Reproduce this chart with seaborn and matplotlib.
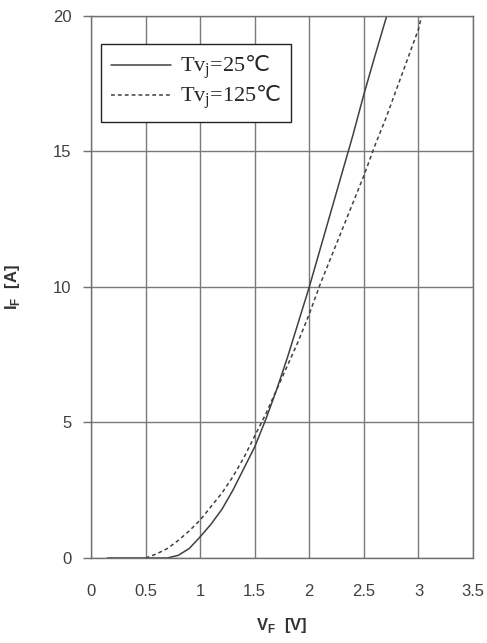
import numpy as np
import pandas as pd
import matplotlib
matplotlib.use('Agg')
import matplotlib.pyplot as plt
import seaborn as sns
from matplotlib.lines import Line2D

# forward characteristic
vf_25 = [0.15, 0.45, 0.7, 0.8, 0.9, 1.0, 1.1, 1.2, 1.3, 1.4, 1.5, 1.6, 1.7, 1.8,
         1.9, 2.0, 2.1, 2.2, 2.3, 2.4, 2.5, 2.6, 2.71]
if_25 = [0, 0, 0, 0.1, 0.35, 0.78, 1.25, 1.8, 2.5, 3.3, 4.1, 5.1, 6.2, 7.4,
         8.7, 10.0, 11.4, 12.8, 14.2, 15.6, 17.1, 18.5, 20.0]

vf_125 = [0.5, 0.6, 0.7, 0.8, 0.9, 1.0, 1.1, 1.2, 1.3, 1.4, 1.5, 1.6, 1.7, 1.8,
          1.9, 2.0, 2.1, 2.2, 2.3, 2.4, 2.5, 2.6, 2.7, 2.8, 2.9, 3.0, 3.03]
if_125 = [0, 0.15, 0.35, 0.65, 1.0, 1.4, 1.9, 2.4, 3.0, 3.7, 4.5, 5.3, 6.2, 7.1,
          8.0, 9.0, 10.1, 11.1, 12.1, 13.1, 14.1, 15.2, 16.2, 17.3, 18.4, 19.5, 20.0]

# the degree sign goes through mathtext sf (DejaVu Sans), which has the glyph
labels = ['Tv$_\\mathregular{j}$=25$\\mathsf{\u2103}$',
          'Tv$_\\mathregular{j}$=125$\\mathsf{\u2103}$']

df = pd.concat([
    pd.DataFrame({'VF': vf_25, 'IF': if_25, 'Tvj': labels[0]}),
    pd.DataFrame({'VF': vf_125, 'IF': if_125, 'Tvj': labels[1]}),
])

sns.set_style('white')
plt.rcParams['font.family'] = ['Liberation Sans', 'DejaVu Sans']
plt.rcParams['mathtext.fontset'] = 'custom'
plt.rcParams['mathtext.rm'] = 'Liberation Serif'
plt.rcParams['mathtext.sf'] = 'DejaVu Sans'

fig = plt.figure(figsize=(4.87, 6.43), dpi=100)
ax = fig.add_axes([0.1869, 0.1322, 0.7844, 0.8434])

sns.lineplot(data=df, x='VF', y='IF', hue='Tvj', style='Tvj',
             palette=['#404040', '#404040'], dashes=[(None, None), (2.5, 2)],
             sort=False, linewidth=1.1, ax=ax, legend=False)

ax.set_xlim(0, 3.5)
ax.set_ylim(0, 20)
ax.set_xticks(np.arange(0, 3.51, 0.5))
ax.set_xticklabels(['0', '0.5', '1', '1.5', '2', '2.5', '3', '3.5'])
ax.set_yticks([0, 5, 10, 15, 20])
ax.grid(True, color='#7a7a7a', linewidth=1.0)
for s in ax.spines.values():
    s.set_color('#707070')
    s.set_linewidth(1.0)
ax.tick_params(axis='y', length=6, width=1, color='#707070', labelsize=12,
               labelcolor='#404040', pad=8, left=True, direction='out')
ax.tick_params(axis='x', length=0, labelsize=12, labelcolor='#404040', pad=19)

ax.set_xlabel('V$_\\mathregular{F}$  [V]', fontsize=12, fontweight='bold',
              color='#333333', labelpad=12)
ax.set_ylabel('I$_\\mathregular{F}$  [A]', fontsize=12, fontweight='bold',
              color='#333333', labelpad=22)

handles = [Line2D([], [], color='#404040', lw=1.1),
           Line2D([], [], color='#404040', lw=1.1, dashes=(2.5, 2))]
leg = ax.legend(handles, labels, loc='upper left', bbox_to_anchor=(0.026, 0.948),
                borderaxespad=0, frameon=True, fancybox=False,
                edgecolor='#222222', framealpha=1,
                prop={'family': 'Liberation Serif', 'size': 16},
                handlelength=2.7, handletextpad=0.4, borderpad=0.45,
                labelspacing=0.1)
leg.get_frame().set_linewidth(1.0)

fig.savefig('out.png', dpi=100)
